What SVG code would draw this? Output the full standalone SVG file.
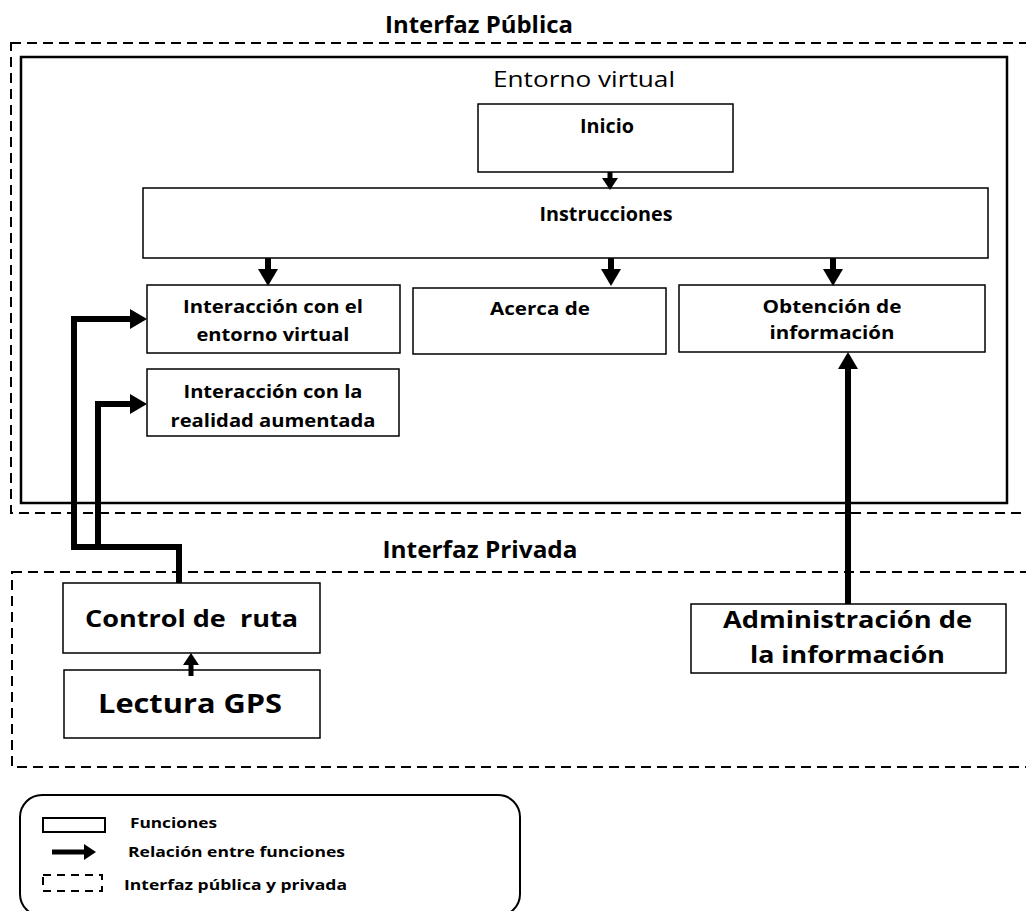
<svg xmlns="http://www.w3.org/2000/svg" width="1026" height="911" viewBox="0 0 1026 911">
  <style>
    .t { font-family: "Open Sans", "Liberation Sans", sans-serif; fill: #000; text-anchor: middle; }
    .b { font-weight: bold; }
    .l { text-anchor: start; }
    .box { fill: #fff; stroke: #000; stroke-width: 1.5; }
    .dash { fill: none; stroke: #000; stroke-width: 2; stroke-dasharray: 10 6; }
    .link { fill: none; stroke: #000; stroke-width: 6; stroke-linejoin: miter; }
    .thin { fill: none; stroke: #000; stroke-width: 5; }
  </style>
  <defs>
    <marker id="head" markerUnits="userSpaceOnUse" markerWidth="17" markerHeight="20" viewBox="0 0 17 20" refX="0" refY="10" orient="auto">
      <path d="M0,0 L17,10 L0,20 Z" fill="#000"/>
    </marker>
    <marker id="head-s" markerUnits="userSpaceOnUse" markerWidth="12" markerHeight="16" viewBox="0 0 12 16" refX="0" refY="8" orient="auto">
      <path d="M0,0 L12,8 L0,16 Z" fill="#000"/>
    </marker>
  </defs>

  <rect width="1026" height="911" fill="#fff"/>

  <!-- public interface zone -->
  <g id="interfaz-publica">
    <rect class="dash" x="11" y="43" width="1030" height="470"/>
    <text class="t b" x="479" y="33" font-size="23" textLength="188" lengthAdjust="spacingAndGlyphs">Interfaz Pública</text>
  </g>

  <!-- virtual environment -->
  <g id="entorno-virtual">
    <rect x="21" y="57" width="986" height="446" fill="none" stroke="#000" stroke-width="2.5"/>
    <text class="t" x="584" y="87" font-size="22" textLength="182" lengthAdjust="spacingAndGlyphs">Entorno virtual</text>
  </g>

  <!-- private interface zone -->
  <g id="interfaz-privada">
    <rect class="dash" x="12" y="572" width="1030" height="195"/>
    <text class="t b" x="480" y="558" font-size="23" textLength="195" lengthAdjust="spacingAndGlyphs">Interfaz Privada</text>
  </g>

  <g id="inicio">
    <rect class="box" x="478" y="104" width="255" height="68"/>
    <text class="t b" x="607" y="133" font-size="20" textLength="54" lengthAdjust="spacingAndGlyphs">Inicio</text>
  </g>

  <g id="instrucciones">
    <rect class="box" x="143" y="188" width="845" height="70" stroke-width="2.5"/>
    <text class="t b" x="606" y="221" font-size="20" textLength="133" lengthAdjust="spacingAndGlyphs">Instrucciones</text>
  </g>

  <g id="interaccion-entorno">
    <rect class="box" x="147" y="285" width="253" height="68"/>
    <text class="t b" x="273" y="313" font-size="17.5" textLength="180" lengthAdjust="spacingAndGlyphs">Interacción con el</text>
    <text class="t b" x="273" y="341" font-size="17.5" textLength="153" lengthAdjust="spacingAndGlyphs">entorno virtual</text>
  </g>

  <g id="acerca-de">
    <rect class="box" x="413" y="288" width="253" height="66"/>
    <text class="t b" x="540" y="315" font-size="18" textLength="100" lengthAdjust="spacingAndGlyphs">Acerca de</text>
  </g>

  <g id="obtencion-informacion">
    <rect class="box" x="679" y="285" width="306" height="67"/>
    <text class="t b" x="832" y="313" font-size="18" textLength="139" lengthAdjust="spacingAndGlyphs">Obtención de</text>
    <text class="t b" x="832" y="339" font-size="18" textLength="125" lengthAdjust="spacingAndGlyphs">información</text>
  </g>

  <g id="interaccion-realidad">
    <rect class="box" x="147" y="369" width="252" height="67"/>
    <text class="t b" x="273" y="398" font-size="17.5" textLength="179" lengthAdjust="spacingAndGlyphs">Interacción con la</text>
    <text class="t b" x="273" y="427" font-size="17.5" textLength="205" lengthAdjust="spacingAndGlyphs">realidad aumentada</text>
  </g>

  <g id="control-ruta">
    <rect class="box" x="63" y="583" width="257" height="70" stroke-width="2"/>
    <text class="t b" x="191.5" y="627" font-size="23" textLength="213" lengthAdjust="spacingAndGlyphs" xml:space="preserve">Control de  ruta</text>
  </g>

  <g id="lectura-gps">
    <rect class="box" x="64" y="670" width="256" height="68" stroke-width="2"/>
    <text class="t b" x="190" y="713" font-size="26" textLength="184" lengthAdjust="spacingAndGlyphs">Lectura GPS</text>
  </g>

  <g id="administracion-informacion">
    <rect class="box" x="691" y="604" width="315" height="69" stroke-width="2"/>
    <text class="t b" x="847.5" y="628" font-size="23" textLength="249" lengthAdjust="spacingAndGlyphs">Administración de</text>
    <text class="t b" x="847.5" y="663" font-size="23" textLength="195" lengthAdjust="spacingAndGlyphs">la información</text>
  </g>

  <!-- relations between functions -->
  <g id="connectors">
    <path class="thin" d="M610,172 V178" marker-end="url(#head-s)"/>
    <path class="link" d="M268,258 V269" marker-end="url(#head)"/>
    <path class="link" d="M611,258 V269" marker-end="url(#head)"/>
    <path class="link" d="M833,258 V269" marker-end="url(#head)"/>
    <path class="link" d="M179,583 V547 H74 V319 H130" marker-end="url(#head)"/>
    <path class="link" d="M98,547 V404 H130" marker-end="url(#head)"/>
    <path class="link" d="M848,604 V369" marker-end="url(#head)"/>
    <path class="thin" d="M191,676 V665" marker-end="url(#head-s)"/>
  </g>

  <!-- legend -->
  <g id="legend">
    <rect x="20" y="795" width="500" height="121" rx="22" fill="#fff" stroke="#000" stroke-width="2"/>
    <rect x="43" y="818" width="62" height="14" fill="#fff" stroke="#000" stroke-width="2"/>
    <text class="t b l" x="130" y="828" font-size="14" textLength="87" lengthAdjust="spacingAndGlyphs">Funciones</text>
    <path class="thin" d="M52,852 H84" marker-end="url(#head-s)"/>
    <text class="t b l" x="128" y="857" font-size="14.5" textLength="217" lengthAdjust="spacingAndGlyphs">Relación entre funciones</text>
    <rect x="43" y="875" width="59" height="16" fill="none" stroke="#000" stroke-width="2" stroke-dasharray="8 6"/>
    <text class="t b l" x="124" y="890" font-size="15" textLength="223" lengthAdjust="spacingAndGlyphs">Interfaz pública y privada</text>
  </g>
</svg>
